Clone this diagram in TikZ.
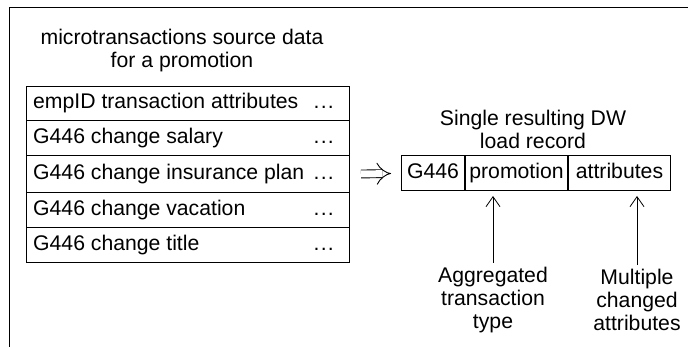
\documentclass[tikz,border=0pt]{standalone}
\usepackage{fontspec}
\setmainfont{Liberation Sans}
\usetikzlibrary{arrows.meta}
\newcommand{\mydots}{.\kern1.2pt.\kern1.2pt.}
\begin{document}
\begin{tikzpicture}[x=1pt,y=-1pt,
  every node/.style={font=\fontsize{21.2}{23}\selectfont, inner sep=0pt},
  rowbox/.style={draw, line width=1pt, minimum width=323pt, anchor=north west},
  rowtext/.style={anchor=west, text height=15pt, text depth=4.5pt},
  cellbox/.style={draw, line width=1pt, minimum height=35pt, anchor=west, text height=15pt, text depth=4.5pt},
  pointer/.style={-{Straight Barb[length=10pt,width=14pt,line width=0.8pt]}, line width=0.8pt},
  dblarrow/.style={double, double distance=7pt, line width=0.9pt, -{Implies}}]
\useasboundingbox (0,0) rectangle (688,347);
% outer frame
\draw[line width=1pt] (9,347) -- (9,8) -- (688,8);
% left title
\node[align=center] (ltitle) at (182,51) {microtransactions source data\\for a promotion};
% table rows
\node[rowbox, minimum height=34pt] (r0) at (26,86) {};
\node[rowbox, minimum height=35pt] (r1) at (26,120) {};
\node[rowbox, minimum height=37pt] (r2) at (26,155) {};
\node[rowbox, minimum height=35pt] (r3) at (26,192) {};
\node[rowbox, minimum height=35pt] (r4) at (26,227) {};
\foreach \r/\t in {r0/empID transaction attributes, r1/G446 change salary, r2/G446 change insurance plan, r3/G446 change vacation, r4/G446 change title}{
  \node[rowtext] (\r t) at ([xshift=7pt]\r.west) {\t};
  \node[rowtext, anchor=east] (\r d) at ([xshift=-16pt]\r.east) {\mydots};
}
% record
\node[align=center] (rtitle) at (533,129) {Single resulting DW\\load record};
\node[cellbox, minimum width=63pt] (c1) at (401,173.5) {G446};
\node[cellbox, minimum width=102pt] (c2) at (c1.east) {promotion};
\node[cellbox, minimum width=102pt] (c3) at (c2.east) {attributes};
% double arrow
\coordinate (d0) at ([xshift=11pt]r2.east);
\coordinate (d1) at ([xshift=-10pt]c1.west);
\draw[dblarrow] (d0) -- (d1);
% labels
\node[align=center] (l1) at (493,300) {Aggregated\\transaction\\type};
\node[align=center] (l2) at (637,300) {Multiple\\changed\\attributes};
\coordinate (a1) at (493,196);
\coordinate (a2) at (637,196);
\draw[pointer] (l1.north) ++(0,-4) -- (a1);
\draw[pointer] (l2.north) ++(0,-4) -- (a2);
\end{tikzpicture}
\end{document}
